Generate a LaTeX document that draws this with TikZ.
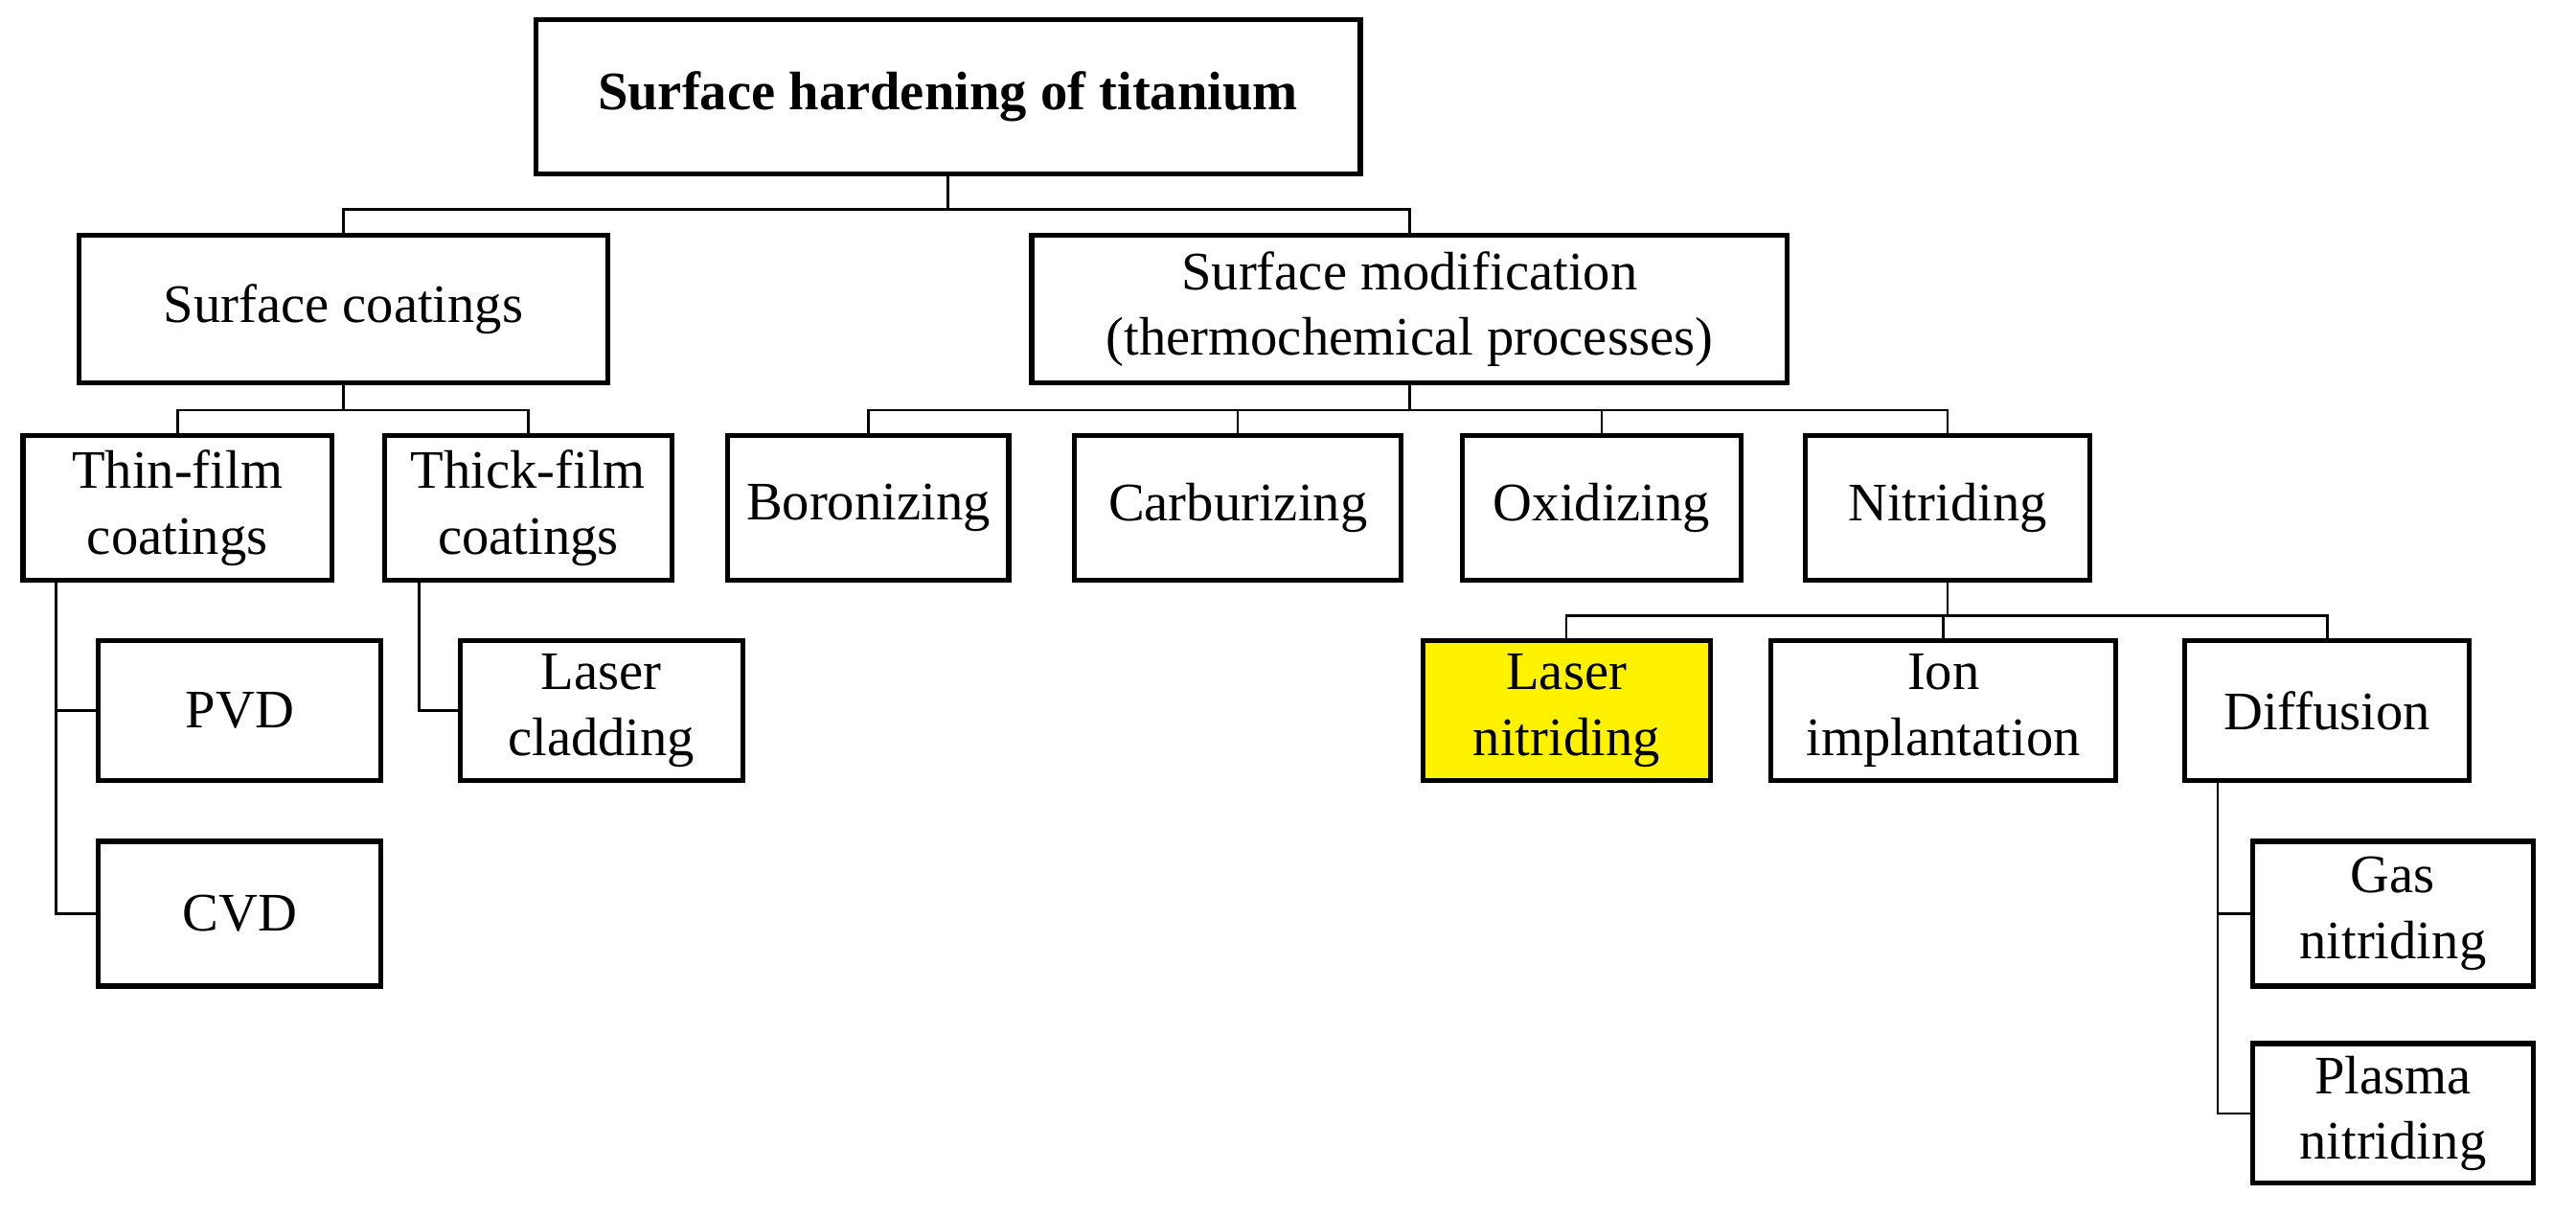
\documentclass[tikz,border=0pt]{standalone}
\usepackage{fontspec}
\setmainfont{Liberation Serif}
\begin{document}
\begin{tikzpicture}[x=1pt,y=-1pt,
 bx/.style={draw,line width=3pt,align=center,inner sep=0pt,font=\fontsize{33}{40}\selectfont},
 ln/.style={line width=1.5pt}]
\useasboundingbox (0,0) rectangle (1568,740);
\node[bx,minimum width=502,minimum height=94] (root) at (577,59) {\textbf{Surface hardening of titanium}};
\node[bx,minimum width=322,minimum height=90] (sc) at (209,188) {Surface coatings};
\node[bx,minimum width=460,minimum height=90] (sm) at (858,188) {Surface modification\\(thermochemical processes)};
\node[bx,minimum width=188,minimum height=88] (thin) at (108,309) {Thin-film\\coatings};
\node[bx,minimum width=175,minimum height=88] (thick) at (321.5,309) {Thick-film\\coatings};
\node[bx,minimum width=171,minimum height=88] (bor) at (528.5,309) {Boronizing};
\node[bx,minimum width=199,minimum height=88] (car) at (753.5,309) {Carburizing};
\node[bx,minimum width=170,minimum height=88] (oxi) at (975,309) {Oxidizing};
\node[bx,minimum width=173,minimum height=88] (nit) at (1185.5,309) {Nitriding};
\node[bx,minimum width=172,minimum height=85] (pvd) at (146,432.5) {PVD};
\node[bx,minimum width=172,minimum height=85] (lc) at (366,432.5) {Laser\\cladding};
\node[bx,minimum width=175,minimum height=85,fill=yellow] (ln) at (953.5,432.5) {Laser\\nitriding};
\node[bx,minimum width=210,minimum height=85] (ion) at (1183,432.5) {Ion\\implantation};
\node[bx,minimum width=173,minimum height=85] (dif) at (1416.5,432.5) {Diffusion};
\node[bx,minimum width=172,minimum height=88] (cvd) at (146,556) {CVD};
\node[bx,minimum width=171,minimum height=88] (gas) at (1456.5,556) {Gas\\nitriding};
\node[bx,minimum width=171,minimum height=85] (pla) at (1456.5,677.5) {Plasma\\nitriding};
% connectors
\draw[ln] (root.south) -- ++(0,20) coordinate (r1);
\draw[ln] (sc.north) |- (r1) -| (sm.north);
\draw[ln] (sc.south) -- ++(0,15) coordinate (s1);
\draw[ln] (thin.north) |- (s1) -| (thick.north);
\draw[ln] (sm.south) -- ++(0,15) coordinate (m1);
\draw[ln] (bor.north) |- (m1) -| (nit.north);
\draw[ln] (car.north) -- (car.north |- m1);
\draw[ln] (oxi.north) -- (oxi.north |- m1);
\draw[ln] (nit.south) -- ++(0,20) coordinate (n1);
\draw[ln] (ln.north) |- (n1) -| (dif.north);
\draw[ln] (ion.north) -- (ion.north |- n1);
\coordinate (t0) at (34,0);
\draw[ln] (thin.south -| t0) |- (cvd.west);
\draw[ln] (pvd.west) -- (pvd.west -| t0);
\coordinate (k0) at (255,0);
\draw[ln] (thick.south -| k0) |- (lc.west);
\coordinate (d0) at (1350,0);
\draw[ln] (dif.south -| d0) |- (pla.west);
\draw[ln] (gas.west) -- (gas.west -| d0);
\end{tikzpicture}
\end{document}
